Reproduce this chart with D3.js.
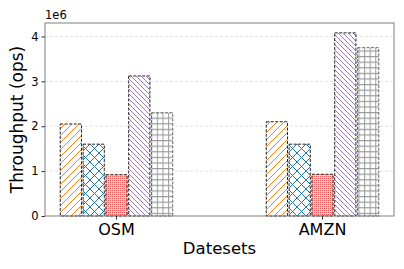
<!DOCTYPE html>
<html><head><meta charset="utf-8">
<script src="https://cdn.jsdelivr.net/npm/d3@7"></script>
<style>body{margin:0;background:#fff}svg{display:block}text{font-family:"DejaVu Sans",sans-serif}</style>
</head><body><svg id="c" width="404" height="269"></svg>
<script>
const categories = ["OSM", "AMZN"];
const seriesNames = ["s1", "s2", "s3", "s4", "s5"];
const seriesValues = [
  [2.05e6, 2.10e6],
  [1.60e6, 1.60e6],
  [0.92e6, 0.93e6],
  [3.12e6, 4.08e6],
  [2.30e6, 3.75e6]
];
const yTicks = [0, 1e6, 2e6, 3e6, 4e6];
const colors = ["#ff7f0e", "#1f77b4", "#d62728", "#9467bd", "#7f7f7f"];

const svg = d3.select("#c");
const m = {l: 45, r: 10, t: 23, b: 53};
const W = 404, H = 269;
const x0 = d3.scaleBand().domain(categories).range([m.l, W - m.r]).paddingInner(0.454).paddingOuter(0.074);
const x1 = d3.scaleBand().domain(seriesNames).range([0, x0.bandwidth()]).paddingInner(0.07);
const y = d3.scaleLinear().domain([0, 4.3e6]).range([H - m.b, m.t]);

const defs = svg.append("defs");
function pat(id, size, draw, bg) {
  const p = defs.append("pattern").attr("id", id).attr("patternUnits", "userSpaceOnUse")
    .attr("width", size).attr("height", size);
  p.append("rect").attr("width", size).attr("height", size).attr("fill", bg || "#fff");
  draw(p);
}
pat("p0", 7, p => { p.append("path").attr("d", "M-1,8 L8,-1 M-1,1 L1,-1 M6,8 L8,6").attr("stroke", colors[0]).attr("stroke-width", 1); });
pat("p1", 9, p => { p.append("path").attr("d", "M0,0 L9,9 M9,0 L0,9").attr("stroke", colors[1]).attr("stroke-width", 1); });
pat("p2", 2, p => { p.append("rect").attr("width", 1).attr("height", 1).attr("fill", "#e65c5c"); }, "#f8c6c6");
pat("p3", 5, p => { p.append("path").attr("d", "M-1,-1 L6,6 M-1,4 L1,6 M4,-1 L6,1").attr("stroke", colors[3]).attr("stroke-width", 0.9); });
pat("p4", 5.6, p => { p.append("path").attr("d", "M0,0.6 H5.6 M0.6,0 V5.6").attr("stroke", "#9a9a9a").attr("stroke-width", 1); });

// grid
svg.append("g").selectAll("line").data(yTicks.slice(1)).join("line")
  .attr("x1", m.l).attr("x2", W - m.r).attr("y1", d => y(d)).attr("y2", d => y(d))
  .attr("stroke", "#dcdcdc").attr("stroke-dasharray", "3,2").attr("stroke-width", 0.8);

// bars
const g = svg.append("g");
categories.forEach((c, ci) => {
  seriesNames.forEach((s, si) => {
    const v = seriesValues[si][ci];
    g.append("rect")
      .attr("x", x0(c) + x1(s)).attr("width", x1.bandwidth())
      .attr("y", y(v)).attr("height", y(0) - y(v))
      .attr("fill", `url(#p${si})`)
      .attr("stroke", si === 4 ? "#666" : "#222").attr("stroke-width", 1)
      .attr("stroke-dasharray", "3,1.5");
  });
});

// frame
svg.append("rect").attr("x", m.l).attr("y", m.t).attr("width", W - m.r - m.l).attr("height", H - m.b - m.t)
  .attr("fill", "none").attr("stroke", "#808080").attr("stroke-width", 1);

// axes
const ya = svg.append("g").attr("transform", `translate(${m.l},0)`)
  .call(d3.axisLeft(y).tickValues(yTicks).tickFormat(d => d / 1e6).tickSize(3.5).tickPadding(3));
ya.select(".domain").remove();
ya.selectAll("text").attr("font-size", 11.5).attr("fill", "#000");
ya.selectAll("line").attr("stroke", "#333");

const xa = svg.append("g").attr("transform", `translate(0,${H - m.b})`)
  .call(d3.axisBottom(x0).tickSize(3.5).tickPadding(4));
xa.select(".domain").remove();
xa.selectAll("text").attr("font-size", 16).attr("fill", "#000");
xa.selectAll("line").attr("stroke", "#333");

svg.append("text").attr("x", m.l).attr("y", m.t - 4).attr("font-size", 11.5).text("1e6");
svg.append("text").attr("x", 219.5).attr("y", 254).attr("text-anchor", "middle")
  .attr("font-size", 16.5).text("Datesets");
svg.append("text").attr("transform", `translate(23,${(m.t + H - m.b) / 2}) rotate(-90)`)
  .attr("text-anchor", "middle").attr("font-size", 17).text("Throughput (ops)");
</script></body></html>
